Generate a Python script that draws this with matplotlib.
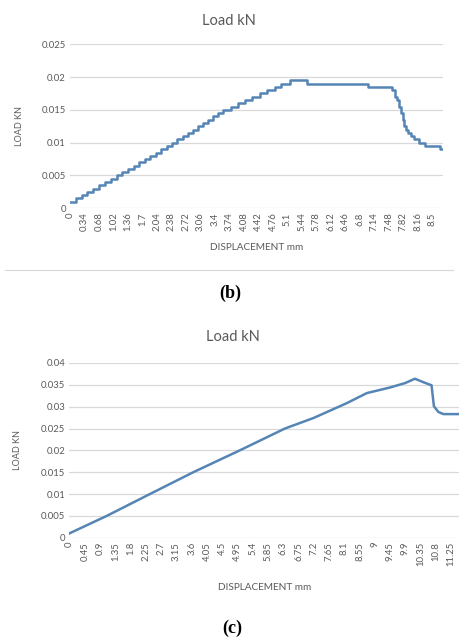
import matplotlib.pyplot as plt
from matplotlib.lines import Line2D

# --- data (b): staircase load readings, value holds until next displacement ---
disp_b = [0, 0.14, 0.28, 0.41, 0.55, 0.69, 0.83, 0.96, 1.10,
          1.23, 1.36, 1.49, 1.62, 1.75, 1.88, 2.01, 2.14, 2.27, 2.40,
          2.52, 2.64, 2.76, 2.88, 3.00, 3.12, 3.24, 3.36, 3.48, 3.60,
          3.77, 3.94, 4.11, 4.28, 4.45, 4.62, 4.80, 4.95, 5.15,
          5.55, 6.99, 7.55, 7.62, 7.68, 7.72, 7.76, 7.80, 7.84, 7.88,
          7.94, 8.00, 8.08, 8.18, 8.32, 8.68, 8.75]
load_b = [0.001, 0.0015, 0.002, 0.0025, 0.003, 0.0035, 0.004, 0.0045, 0.005,
          0.0055, 0.006, 0.0065, 0.007, 0.0075, 0.008, 0.0085, 0.009, 0.0095, 0.010,
          0.0105, 0.011, 0.0115, 0.012, 0.0125, 0.013, 0.0135, 0.014, 0.0145, 0.015,
          0.0155, 0.016, 0.0165, 0.017, 0.0175, 0.018, 0.0185, 0.019, 0.0195,
          0.019, 0.0185, 0.018, 0.017, 0.0165, 0.0155, 0.0145, 0.0135, 0.0125, 0.012,
          0.0115, 0.011, 0.0105, 0.010, 0.0095, 0.009, 0.009]
ticks_b = ['0', '0.34', '0.68', '1.02', '1.36', '1.7', '2.04', '2.38', '2.72',
           '3.06', '3.4', '3.74', '4.08', '4.42', '4.76', '5.1', '5.44', '5.78',
           '6.12', '6.46', '6.8', '7.14', '7.48', '7.82', '8.16', '8.5']
yticks_b = [0, 0.005, 0.01, 0.015, 0.02, 0.025]
ylabels_b = ['0', '0.005', '0.01', '0.015', '0.02', '0.025']

# --- data (c) ---
disp_c = [0, 1.10, 2.37, 3.65, 5.02, 6.35, 7.19, 7.94, 8.17, 8.76, 9.45,
          9.89, 10.18, 10.43, 10.67, 10.74, 10.87, 11.02, 11.55]
load_c = [0.001, 0.005, 0.010, 0.015, 0.020, 0.025, 0.0274, 0.030, 0.0308, 0.0331, 0.0344,
          0.0354, 0.0364, 0.0356, 0.0349, 0.0301, 0.0288, 0.0283, 0.0283]
ticks_c = ['0', '0.45', '0.9', '1.35', '1.8', '2.25', '2.7', '3.15', '3.6',
           '4.05', '4.5', '4.95', '5.4', '5.85', '6.3', '6.75', '7.2', '7.65',
           '8.1', '8.55', '9', '9.45', '9.9', '10.35', '10.8', '11.25']
yticks_c = [0, 0.005, 0.01, 0.015, 0.02, 0.025, 0.03, 0.035, 0.04]
ylabels_c = ['0', '0.005', '0.01', '0.015', '0.02', '0.025', '0.03', '0.035', '0.04']

TXT = '#595959'
GRID = '#d9d9d9'
LINE = '#5585b5'
FONT = ['Lato', 'DejaVu Sans']

plt.rcParams['font.family'] = FONT

W, H = 460, 643
fig = plt.figure(figsize=(W / 100, H / 100), dpi=100)
fig.patch.set_facecolor('white')


def style_axes(ax, ticks, yticks, ylabels):
    ax.set_yticks(yticks)
    ax.set_yticklabels(ylabels)
    ax.set_xticks([float(t) for t in ticks])
    ax.set_xticklabels(ticks, rotation=90, va='top', ha='center')
    ax.tick_params(length=0, labelsize=6.8, colors=TXT, pad=3)
    ax.grid(axis='y', color=GRID, linewidth=0.9)
    ax.set_axisbelow(True)
    for s in ax.spines.values():
        s.set_visible(False)


# panel (b)
ax1 = fig.add_axes([70 / W, 1 - 208.3 / H, (443 - 70) / W, (208.3 - 44.3) / H])
ax1.plot(disp_b, load_b, drawstyle='steps-post', color=LINE, linewidth=1.8)
ax1.set_xlim(0, 8.75)
ax1.set_ylim(0, 0.025)
style_axes(ax1, ticks_b, yticks_b, ylabels_b)
fig.text(229 / W, 1 - 21 / H, 'Load kN', ha='center', va='center', fontsize=10.5, color=TXT)
fig.text(20 / W, 1 - 126 / H, 'LOAD KN', ha='center', va='center', rotation=90,
         fontsize=6.5, color=TXT)
fig.text(257 / W, 1 - 248 / H, 'DISPLACEMENT mm', ha='center', va='center',
         fontsize=7.2, color=TXT)
fig.add_artist(Line2D([5 / W, 453 / W], [1 - 270 / H, 1 - 270 / H], color=GRID,
                      linewidth=0.8, transform=fig.transFigure))
fig.text(230 / W, 1 - 293 / H, '(b)', ha='center', va='center', fontsize=13,
         fontweight='bold', family='Liberation Serif')

# panel (c)
x_end_c = (460 - 69.5) / 33.93
ax2 = fig.add_axes([69.5 / W, 1 - 537.7 / H, (460 - 69.5) / W, (537.7 - 363) / H])
ax2.plot(disp_c, load_c, color=LINE, linewidth=1.8)
ax2.set_xlim(0, x_end_c)
ax2.set_ylim(0, 0.04)
style_axes(ax2, ticks_c, yticks_c, ylabels_c)
fig.text(233 / W, 1 - 337 / H, 'Load kN', ha='center', va='center', fontsize=10.5, color=TXT)
fig.text(18 / W, 1 - 450 / H, 'LOAD KN', ha='center', va='center', rotation=90,
         fontsize=6.5, color=TXT)
fig.text(265 / W, 1 - 588 / H, 'DISPLACEMENT mm', ha='center', va='center',
         fontsize=7.2, color=TXT)
fig.text(232 / W, 1 - 628 / H, '(c)', ha='center', va='center', fontsize=13,
         fontweight='bold', family='Liberation Serif')

fig.savefig('out.png', dpi=100)
